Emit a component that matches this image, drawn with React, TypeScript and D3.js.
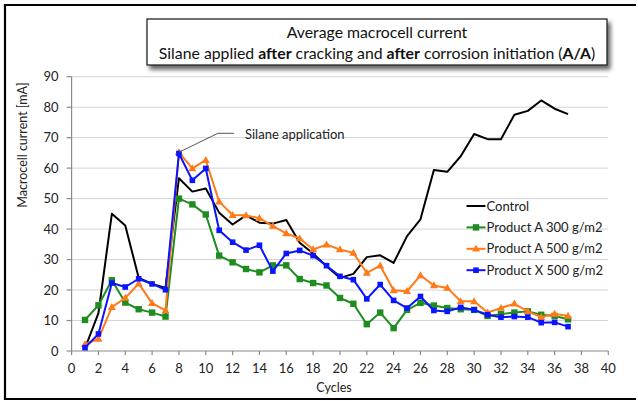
import React from 'react';
import * as d3 from 'd3';

const cycles = d3.range(1, 38);
const control = [0.9, 12.4, 45, 41.2, 24, 22, 20.7, 56.7, 52.3, 53.3, 45.4, 41.5, 44.5, 42.1, 41.8, 43, 35.5, 32, 27.8, 24, 25.3, 30.8, 31.4, 28.9, 37.7, 43.2, 59.4, 58.8, 63.9, 71.2, 69.5, 69.5, 77.5, 78.8, 82.2, 79.5, 77.7];
const productA300 = [10.2, 15, 23.2, 15.9, 13.7, 12.6, 11.3, 50, 48.1, 44.8, 31.3, 29.1, 26.9, 25.8, 28.1, 28.1, 23.6, 22.3, 21.5, 17.4, 15.5, 8.8, 12.6, 7.5, 13.5, 15.8, 14.9, 14.1, 13.7, 13.5, 11.5, 12.1, 12.6, 13, 11.9, 11.5, 10.4];
const productA500 = [2.2, 4, 14.4, 17.4, 22.1, 15.7, 13.3, 65.2, 59.9, 62.6, 49, 44.6, 44.5, 43.6, 41, 38.6, 36.9, 33.3, 34.9, 33.3, 32.2, 25.6, 28, 19.9, 19.6, 24.8, 21.5, 20.7, 16.3, 16.3, 12.6, 14.1, 15.5, 13, 11.1, 12.2, 11.5];
const productX500 = [1.1, 5.6, 22.3, 21, 23.7, 22, 20.1, 64.8, 56, 59.9, 39.6, 35.7, 33.1, 34.7, 26.2, 32, 33, 31.3, 28, 24.5, 23.4, 17.1, 21.8, 16.6, 14.1, 17.9, 13.3, 13, 14.3, 13.5, 11.9, 11.1, 11.3, 11.1, 9.3, 9.4, 8];
const xTicks = d3.range(0, 41, 2);
const yTicks = d3.range(0, 91, 10);

type Marker = 'none' | 'square' | 'triangle' | 'smallSquare';
const series: { name: string; values: number[]; color: string; marker: Marker }[] = [
  { name: 'Control', values: control, color: '#000000', marker: 'none' },
  { name: 'Product A 300 g/m2', values: productA300, color: '#1E8C1E', marker: 'square' },
  { name: 'Product A 500 g/m2', values: productA500, color: '#FF7A1A', marker: 'triangle' },
  { name: 'Product X 500 g/m2', values: productX500, color: '#0A14FF', marker: 'smallSquare' },
];

const FONT = 'Lato, "Open Sans", sans-serif';
const W = 638;
const H = 401;

const x = d3.scaleLinear().domain([0, 40]).range([71.6, 608.3]);
const y = d3.scaleLinear().domain([0, 90]).range([351, 76.7]);

const MarkerShape = ({ kind, cx, cy, color }: { kind: Marker; cx: number; cy: number; color: string }) => {
  if (kind === 'square') return <rect x={cx - 3.2} y={cy - 3.2} width={6.4} height={6.4} fill={color} />;
  if (kind === 'smallSquare') return <rect x={cx - 2.8} y={cy - 2.8} width={5.6} height={5.6} fill={color} />;
  if (kind === 'triangle') {
    const sym = d3.symbol(d3.symbolTriangle, 28)();
    return <path d={sym ?? ''} transform={`translate(${cx},${cy + 0.5})`} fill={color} />;
  }
  return null;
};

export default function App() {
  const line = d3
    .line<number>()
    .x((_d, i) => x(cycles[i]))
    .y((d) => y(d));

  return (
    <div style={{ position: 'absolute', left: 0, top: 0 }}>
      <svg width={W} height={H} viewBox={`0 0 ${W} ${H}`} style={{ display: 'block', background: '#fff' }}>
        <defs>
          <filter id="shadow" x="-5%" y="-20%" width="115%" height="160%">
            <feDropShadow dx="3" dy="4" stdDeviation="2.2" floodColor="#000" floodOpacity="0.6" />
          </filter>
        </defs>
        <rect x={0} y={0} width={W} height={H} fill="#fff" />
        {/* outer frame */}
        <path d={`M636,5 H5 V399 H636`} fill="none" stroke="#000" strokeWidth={2.2} />

        {/* gridlines */}
        {yTicks.slice(1).map((t) => (
          <line key={t} x1={x(0)} x2={x(40)} y1={y(t)} y2={y(t)} stroke="#d4d4d4" strokeWidth={1} />
        ))}

        {/* axes */}
        <line x1={x(0)} x2={x(0)} y1={y(0)} y2={y(90)} stroke="#8a8a8a" strokeWidth={1.2} />
        <line x1={x(0)} x2={x(40)} y1={y(0)} y2={y(0)} stroke="#8a8a8a" strokeWidth={1.2} />
        {yTicks.map((t) => (
          <g key={t}>
            <line x1={x(0) - 5} x2={x(0)} y1={y(t)} y2={y(t)} stroke="#8a8a8a" strokeWidth={1.2} />
            <text x={x(0) - 13} y={y(t) + 4.5} textAnchor="end" fontSize={13} fontFamily={FONT} fill="#222">
              {t}
            </text>
          </g>
        ))}
        {xTicks.map((t) => (
          <g key={t}>
            <line x1={x(t)} x2={x(t)} y1={y(0)} y2={y(0) + 4} stroke="#8a8a8a" strokeWidth={1.2} />
            <text x={x(t)} y={y(0) + 22} textAnchor="middle" fontSize={13} fontFamily={FONT} fill="#222">
              {t}
            </text>
          </g>
        ))}

        <text
          transform={`translate(27,145) rotate(-90)`}
          textAnchor="middle"
          fontSize={12.5}
          fontFamily={FONT}
          fill="#222"
        >
          Macrocell current [mA]
        </text>
        <text x={334} y={392} textAnchor="middle" fontSize={12.5} fontFamily={FONT} fill="#222">
          Cycles
        </text>

        {/* series */}
        {series.map((s) => (
          <g key={s.name}>
            <path d={line(s.values) ?? ''} fill="none" stroke={s.color} strokeWidth={2} strokeLinejoin="round" />
            {s.values.map((v, i) => (
              <MarkerShape key={i} kind={s.marker} cx={x(cycles[i])} cy={y(v)} color={s.color} />
            ))}
          </g>
        ))}

        {/* annotation */}
        <polyline
          points={`${x(8)},${y(65.2)} ${x(10.9)},133.3 ${x(12.1)},133.3`}
          fill="none"
          stroke="#555"
          strokeWidth={1}
        />
        <text x={245} y={138.5} fontSize={13} fontFamily={FONT} fill="#222">
          Silane application
        </text>

        {/* legend */}
        {series.map((s, i) => {
          const ly = 206 + i * 21.4;
          return (
            <g key={s.name}>
              <line x1={466.5} x2={485.5} y1={ly} y2={ly} stroke={s.color} strokeWidth={2} />
              <MarkerShape kind={s.marker} cx={476} cy={ly} color={s.color} />
              <text x={486.5} y={ly + 4.6} fontSize={13} fontFamily={FONT} fill="#222">
                {s.name}
              </text>
            </g>
          );
        })}

        {/* title box */}
        <rect x={147} y={19} width={460} height={46} fill="#fff" stroke="#222" strokeWidth={1.3} filter="url(#shadow)" />
        <text x={377} y={37.5} textAnchor="middle" fontSize={15.8} fontFamily={FONT} fill="#111">
          Average macrocell current
        </text>
        <text x={377} y={59} textAnchor="middle" fontSize={15.8} fontFamily={FONT} fill="#111">
          Silane applied <tspan fontWeight="bold">after</tspan> cracking and <tspan fontWeight="bold">after</tspan>{' '}
          corrosion initiation (<tspan fontWeight="bold">A/A</tspan>)
        </text>
      </svg>
    </div>
  );
}
